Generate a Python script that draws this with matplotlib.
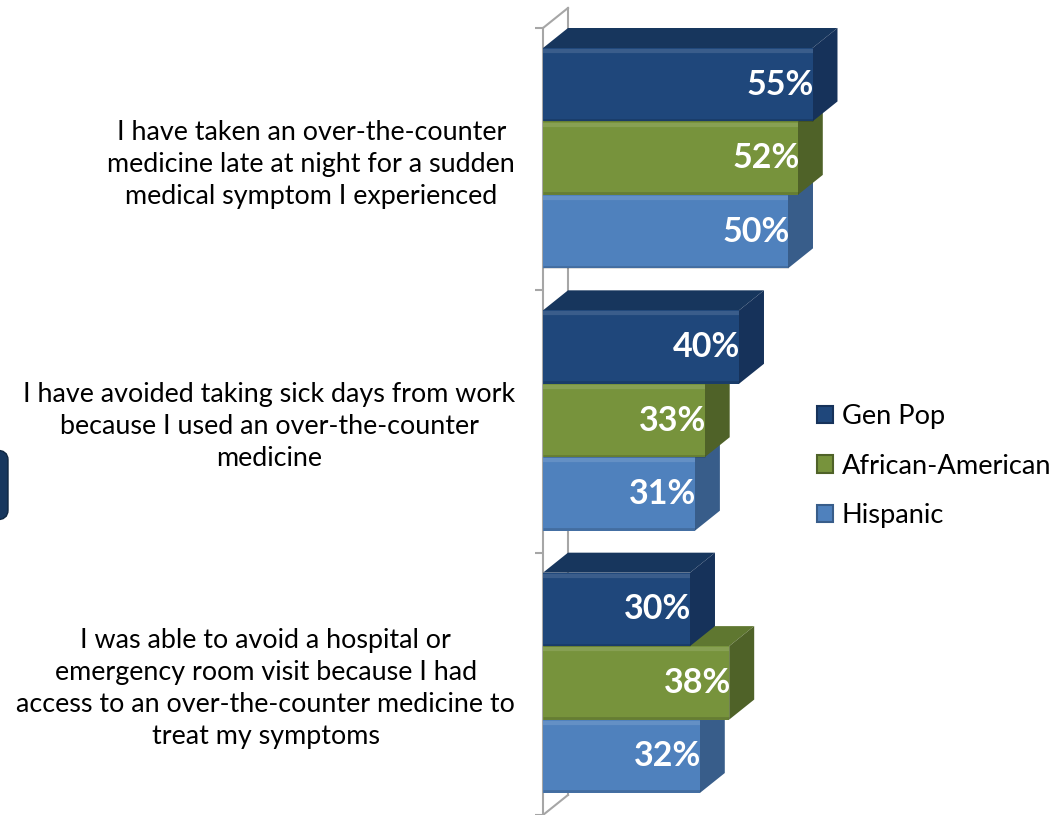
import numpy as np
import matplotlib.pyplot as plt
from matplotlib.patches import Polygon, Patch, FancyBboxPatch

plt.rcParams['font.family'] = ['Lato', 'DejaVu Sans']

categories = ["I have taken an over-the-counter\nmedicine late at night for a sudden\nmedical symptom I experienced",
              "I have avoided taking sick days from work\nbecause I used an over-the-counter\nmedicine",
              "I was able to avoid a hospital or\nemergency room visit because I had\naccess to an over-the-counter medicine to\ntreat my symptoms"]
series = ["Gen Pop", "African-American", "Hispanic"]
gen_pop = [55, 40, 30]
african_american = [52, 33, 38]
hispanic = [50, 31, 32]
values = [gen_pop, african_american, hispanic]

front_col = ["#1F477B", "#77933C", "#4F81BD"]
top_col = ["#17365D", "#5F7730", "#3E6AA0"]
side_col = ["#16325A", "#4F6228", "#385D8A"]
grey = "#A6A6A6"

W, H = 1052, 815
fig = plt.figure(figsize=(W / 100, H / 100), dpi=100)
ax = fig.add_axes([543 / W, 0, 490 / W, 787 / H])
ax.set_xlim(0, 100)
ax.set_ylim(3, 0)

# 3d depth of the bars (x in %, y in category units)
dx = 5.1
dy = 0.0763
h = 0.28

for j in reversed(range(3)):
    tops = np.arange(3) + dy + j * h
    z = 3 + (2 - j) * 3
    ax.barh(tops + h / 2, values[j], height=h, color=front_col[j], zorder=z + 2)
    for i, v in enumerate(values[j]):
        y0 = tops[i]
        y1 = y0 + h
        ax.add_patch(Polygon([(0, y0), (v, y0), (v + dx, y0 - dy), (dx, y0 - dy)],
                             closed=True, fc=top_col[j], ec="none", zorder=z))
        ax.add_patch(Polygon([(v, y0), (v, y1), (v + dx, y1 - dy), (v + dx, y0 - dy)],
                             closed=True, fc=side_col[j], ec="none", zorder=z + 1))
        # light bevel along top of front face, dark along bottom
        ax.plot([0, v], [y0 + 0.012, y0 + 0.012], color="white", alpha=0.12, lw=3,
                zorder=z + 2.5, solid_capstyle="butt")
        ax.plot([0, v], [y1 - 0.006, y1 - 0.006], color="black", alpha=0.15, lw=2,
                zorder=z + 2.5, solid_capstyle="butt")
        ax.text(v + 0.3, y0 + h / 2, f"{v}%", ha="right", va="center", color="white",
                fontsize=24.5, fontweight="bold", zorder=20)

# back wall lines
ax.plot([dx, dx], [-dy, 3 - dy], color=grey, lw=1.5, clip_on=False, zorder=1)
ax.plot([0, dx], [0, -dy], color=grey, lw=1.5, clip_on=False, zorder=1)
ax.plot([0, dx], [3, 3 - dy], color=grey, lw=1.5, clip_on=False, zorder=1)

for s in ["top", "right", "bottom"]:
    ax.spines[s].set_visible(False)
ax.spines["left"].set_color(grey)
ax.spines["left"].set_linewidth(1.5)
ax.spines["left"].set_zorder(1)
ax.set_xticks([])
ax.set_yticks([0, 1, 2, 3])
ax.set_yticklabels([])
ax.tick_params(axis="y", which="major", length=6, width=1.5, color=grey)
ax.set_yticks(np.arange(3) + dy + 1.5 * h, minor=True)
ax.set_yticklabels(categories, minor=True, fontsize=19.4)
ax.tick_params(axis="y", which="minor", length=0, pad=20)
for t in ax.get_yticklabels(minor=True):
    t.set_multialignment("center")
    t.set_linespacing(1.35)

handles = [Patch(facecolor=front_col[k], edgecolor=side_col[k], lw=1.5) for k in range(3)]
fig.legend(handles, series, loc="center left", bbox_to_anchor=(817 / W, 1 - 466 / H),
           frameon=False, fontsize=19.6, handlelength=0.6, handleheight=0.6,
           handletextpad=0.3, labelspacing=0.9, borderaxespad=0, borderpad=0)

# piece of a shape cut by the left edge of the slide
fig.patches.append(FancyBboxPatch((-40 / W, 1 - 520 / H), 48 / W, 70 / H,
                                  boxstyle="round,pad=0,rounding_size=0.012",
                                  transform=fig.transFigure, fc="#17375E", ec="#0F2640"))

fig.savefig("out.png", dpi=100)
